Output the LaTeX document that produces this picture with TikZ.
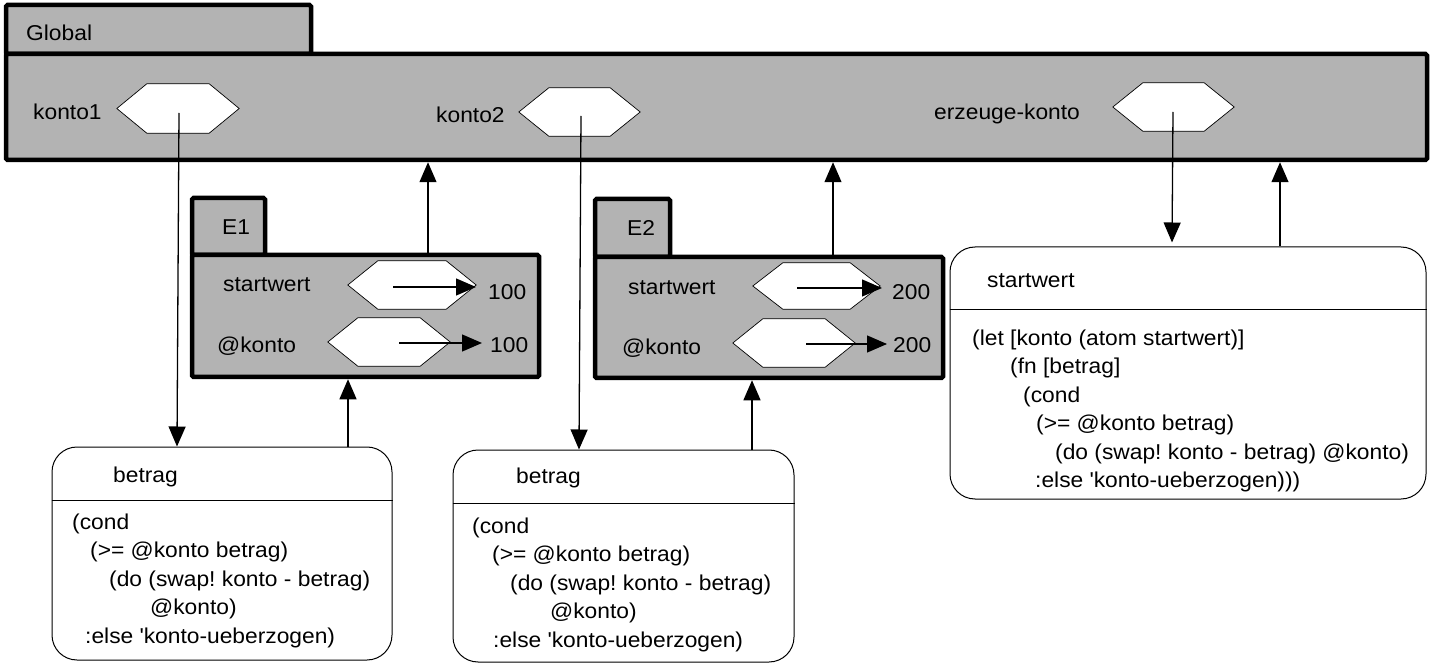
\documentclass[tikz,border=0pt]{standalone}
\usepackage{fontspec}
\setmainfont{Liberation Sans}[FakeStretch=1.06]
\usetikzlibrary{arrows.meta}
\frenchspacing
\definecolor{boxgray}{RGB}{179,179,179}
\tikzset{
  frame/.style={draw, line width=4.5pt, fill=boxgray, rounded corners=1.5pt, inner sep=0pt},
  rbox/.style={draw, line width=1pt, fill=white, rounded corners=25pt, inner sep=0pt},
  txt/.style={inner sep=0pt, anchor=base west, font=\fontsize{21.5}{28.5}\selectfont\frenchspacing},
  code/.style={inner sep=0pt, anchor=north west, align=left, font=\fontsize{21.5}{28.5}\selectfont\frenchspacing},
  hexline/.style={draw, line width=0.7pt, fill=white},
  arr/.style={line width=1.3pt, -{Triangle[length=20pt,width=17pt]}},
  divider/.style={line width=1pt},
}
\newcommand{\hexnode}[5]{%
  \node[inner sep=0pt, minimum width=#4pt, minimum height=#5pt] (#1) at (#2,#3) {};
  \draw[hexline] (#1.west) -- ([xshift=30pt]#1.north west) -- ([xshift=-30pt]#1.north east)
     -- (#1.east) -- ([xshift=-30pt]#1.south east) -- ([xshift=30pt]#1.south west) -- cycle;
}
\begin{document}
\begin{tikzpicture}[x=1pt,y=-1pt]
\useasboundingbox (0,0) rectangle (1433,668);

% Global frame
\node[frame, minimum width=305pt, minimum height=49pt] (gtab) at (158.5,29.5) {};
\node[frame, minimum width=1421pt, minimum height=106pt] (glob) at (716.5,107) {};
\node[txt] (lglobal) at (26,41) {Global};

\node[txt] (lk1) at (33,120) {konto1};
\hexnode{h1}{178}{108.5}{122}{49}
\node[txt] (lk2) at (436,123) {konto2};
\hexnode{h2}{579.5}{112}{121}{48}
\node[txt] (lk3) at (934,120) {erzeuge-konto};
\hexnode{h3}{1173.5}{107}{121}{48}

% E1 frame
\node[frame, minimum width=73pt, minimum height=57pt] (e1tab) at (228.5,226.5) {};
\node[frame, minimum width=347pt, minimum height=122pt] (e1) at (365.5,316) {};
\node[txt] (le1) at (222,235) {E1};
\node[txt] (le1s) at (223,292) {startwert};
\node[txt] (le1k) at (217,353) {@konto};
\hexnode{h4}{412}{285}{128}{48}
\hexnode{h5}{389}{342}{122}{48}
\node[txt] (v1) at (488,300) {100};
\node[txt] (v2) at (490,353) {100};

% E2 frame
\node[frame, minimum width=75pt, minimum height=58pt] (e2tab) at (632.5,228) {};
\node[frame, minimum width=348pt, minimum height=121pt] (e2) at (769,317.5) {};
\node[txt] (le2) at (627,236) {E2};
\node[txt] (le2s) at (628,295) {startwert};
\node[txt] (le2k) at (622,355) {@konto};
\hexnode{h6}{816.5}{286}{127}{46}
\hexnode{h7}{794}{343}{122}{48}
\node[txt] (v3) at (892,300) {200};
\node[txt] (v4) at (893,353) {200};

% procedure boxes
\node[rbox, minimum width=340pt, minimum height=213pt] (b1) at (222,553.5) {};
\coordinate (d1) at (0,500);
\draw[divider] (d1 -| b1.west) -- (d1 -| b1.east);
\node[txt] (b1t) at (113,482) {betrag};
\node[code] (b1c) at (72,513.3) {(cond\\
\hspace*{18pt}(>= @konto betrag)\\
\hspace*{37pt}(do (swap! konto - betrag)\\
\hspace*{78pt}@konto)\\
\hspace*{13pt}:else \textquotesingle konto-ueberzogen)};

\node[rbox, minimum width=341pt, minimum height=212pt] (b2) at (623.5,556) {};
\coordinate (d2) at (0,503);
\draw[divider] (d2 -| b2.west) -- (d2 -| b2.east);
\node[txt] (b2t) at (516,483) {betrag};
\node[code] (b2c) at (472,517.3) {(cond\\
\hspace*{20pt}(>= @konto betrag)\\
\hspace*{38pt}(do (swap! konto - betrag)\\
\hspace*{78pt}@konto)\\
\hspace*{21pt}:else \textquotesingle konto-ueberzogen)};

\node[rbox, minimum width=476pt, minimum height=252pt] (sw) at (1188,373) {};
\coordinate (d3) at (0,310);
\draw[divider] (d3 -| sw.west) -- (d3 -| sw.east);
\node[txt] (swt) at (987,288) {startwert};
\node[code] (swc) at (972,329.3) {(let [konto (atom startwert)]\\
\hspace*{38pt}(fn [betrag]\\
\hspace*{51pt}(cond\\
\hspace*{64pt}(>= @konto betrag)\\
\hspace*{83pt}(do (swap! konto - betrag) @konto)\\
\hspace*{63pt}:else \textquotesingle konto-ueberzogen)))};

% connectors
\coordinate (s1) at (179,113); \coordinate (t1) at (177,0);
\draw[arr] (s1) -- (t1 |- b1.north);
\coordinate (a1) at (428,0);
\draw[arr] (a1 |- e1.north) -- (a1 |- glob.south);
\coordinate (a2) at (348,0);
\draw[arr] (a2 |- b1.north) -- (a2 |- e1.south);
\coordinate (s2) at (581,116); \coordinate (t2) at (579,0);
\draw[arr] (s2) -- (t2 |- b2.north);
\coordinate (a3) at (833,0);
\draw[arr] (a3 |- e2.north) -- (a3 |- glob.south);
\coordinate (a4) at (752,0);
\draw[arr] (a4 |- b2.north) -- (a4 |- e2.south);
\coordinate (s3) at (1173,112); \coordinate (t3) at (1172,0);
\draw[arr, shorten >=4pt] (s3) -- (t3 |- sw.north);
\coordinate (a5) at (1280,0);
\draw[arr] (a5 |- sw.north) -- (a5 |- glob.south);

% value arrows
\coordinate (p1) at (393,287);
\draw[arr, shorten >=12pt] (p1) -- (p1 -| v1.west);
\coordinate (p2) at (399,343);
\draw[arr, shorten >=8pt] (p2) -- (p2 -| v2.west);
\coordinate (p3) at (797,288);
\draw[arr, shorten >=10pt] (p3) -- (p3 -| v3.west);
\coordinate (p4) at (806,344);
\draw[arr, shorten >=6pt] (p4) -- (p4 -| v4.west);
\end{tikzpicture}
\end{document}
